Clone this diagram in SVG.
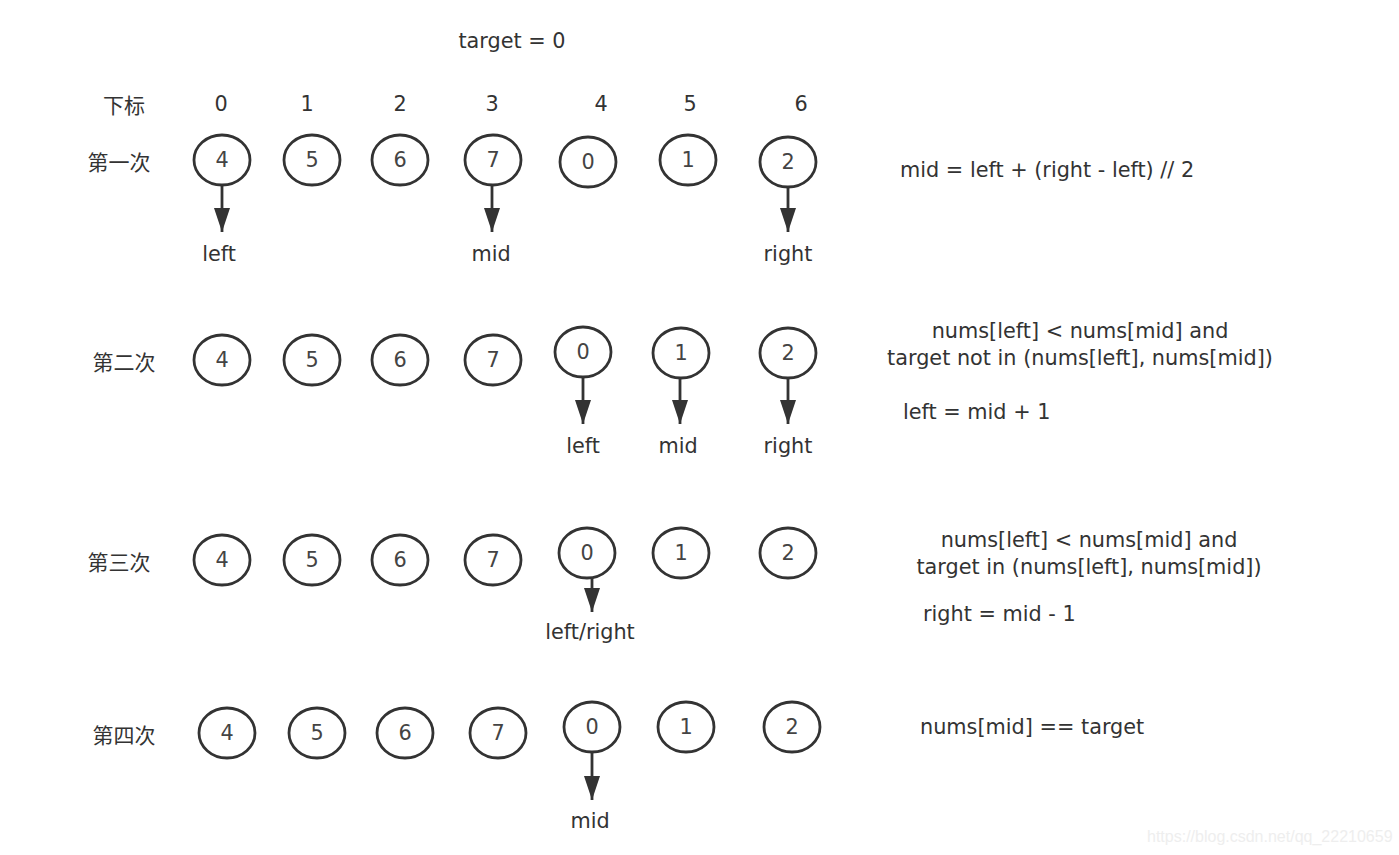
<svg xmlns="http://www.w3.org/2000/svg" width="1399" height="855" viewBox="0 0 1399 855">
<defs>
<marker id="ah" markerWidth="24" markerHeight="16" refX="24" refY="8" orient="auto" markerUnits="userSpaceOnUse" viewBox="0 0 24 16">
<path d="M0,0 L24,8 L0,16 Z" fill="#333"/>
</marker>
<style>
text{font-family:"DejaVu Sans","Noto Sans CJK SC",sans-serif;font-size:20.8px;fill:#333;}
.c{text-anchor:middle;dominant-baseline:central;}
.cjk{font-family:"Noto Sans CJK SC",sans-serif;font-size:21px;}
.n ellipse{fill:#fff;stroke:#333;stroke-width:2.8;}
.n text{text-anchor:middle;dominant-baseline:central;fill:#444;}
.cn{stroke:#333;stroke-width:2.8;fill:none;}
.wm{font-family:"Liberation Sans",sans-serif;font-size:16px;fill:#eee;}
</style>
</defs>
<rect width="1399" height="855" fill="#fff"/>
<text class="c" x="512" y="41">target = 0</text>
<text class="c cjk" x="124" y="104">下标</text>
<text class="c" x="221" y="104">0</text>
<text class="c" x="307" y="104">1</text>
<text class="c" x="400" y="104">2</text>
<text class="c" x="492" y="104">3</text>
<text class="c" x="601" y="104">4</text>
<text class="c" x="690" y="104">5</text>
<text class="c" x="801" y="104">6</text>
<text class="c cjk" x="119" y="161">第一次</text>
<text class="c cjk" x="124" y="361">第二次</text>
<text class="c cjk" x="119" y="561">第三次</text>
<text class="c cjk" x="124" y="734">第四次</text>
<g id="r1">
<g id="r1n0" class="n"><ellipse cx="222" cy="160" rx="28" ry="25"/><text x="222" y="160">4</text></g>
<g id="r1n1" class="n"><ellipse cx="312" cy="160" rx="28" ry="25"/><text x="312" y="160">5</text></g>
<g id="r1n2" class="n"><ellipse cx="400" cy="160" rx="28" ry="25"/><text x="400" y="160">6</text></g>
<g id="r1n3" class="n"><ellipse cx="493" cy="160" rx="28" ry="25"/><text x="493" y="160">7</text></g>
<g id="r1n4" class="n"><ellipse cx="588" cy="162" rx="28" ry="25"/><text x="588" y="162">0</text></g>
<g id="r1n5" class="n"><ellipse cx="688" cy="160" rx="28" ry="25"/><text x="688" y="160">1</text></g>
<g id="r1n6" class="n"><ellipse cx="788" cy="162" rx="28" ry="25"/><text x="788" y="162">2</text></g>
</g>
<g id="r2">
<g id="r2n0" class="n"><ellipse cx="222" cy="360" rx="28" ry="25"/><text x="222" y="360">4</text></g>
<g id="r2n1" class="n"><ellipse cx="312" cy="360" rx="28" ry="25"/><text x="312" y="360">5</text></g>
<g id="r2n2" class="n"><ellipse cx="400" cy="360" rx="28" ry="25"/><text x="400" y="360">6</text></g>
<g id="r2n3" class="n"><ellipse cx="493" cy="360" rx="28" ry="25"/><text x="493" y="360">7</text></g>
<g id="r2n4" class="n"><ellipse cx="583" cy="352" rx="28" ry="25"/><text x="583" y="352">0</text></g>
<g id="r2n5" class="n"><ellipse cx="681" cy="353" rx="28" ry="25"/><text x="681" y="353">1</text></g>
<g id="r2n6" class="n"><ellipse cx="788" cy="353" rx="28" ry="25"/><text x="788" y="353">2</text></g>
</g>
<g id="r3">
<g id="r3n0" class="n"><ellipse cx="222" cy="560" rx="28" ry="25"/><text x="222" y="560">4</text></g>
<g id="r3n1" class="n"><ellipse cx="312" cy="560" rx="28" ry="25"/><text x="312" y="560">5</text></g>
<g id="r3n2" class="n"><ellipse cx="400" cy="560" rx="28" ry="25"/><text x="400" y="560">6</text></g>
<g id="r3n3" class="n"><ellipse cx="493" cy="560" rx="28" ry="25"/><text x="493" y="560">7</text></g>
<g id="r3n4" class="n"><ellipse cx="587" cy="553" rx="28" ry="25"/><text x="587" y="553">0</text></g>
<g id="r3n5" class="n"><ellipse cx="681" cy="553" rx="28" ry="25"/><text x="681" y="553">1</text></g>
<g id="r3n6" class="n"><ellipse cx="788" cy="553" rx="28" ry="25"/><text x="788" y="553">2</text></g>
</g>
<g id="r4">
<g id="r4n0" class="n"><ellipse cx="227" cy="733" rx="28" ry="25"/><text x="227" y="733">4</text></g>
<g id="r4n1" class="n"><ellipse cx="317" cy="733" rx="28" ry="25"/><text x="317" y="733">5</text></g>
<g id="r4n2" class="n"><ellipse cx="405" cy="733" rx="28" ry="25"/><text x="405" y="733">6</text></g>
<g id="r4n3" class="n"><ellipse cx="498" cy="733" rx="28" ry="25"/><text x="498" y="733">7</text></g>
<g id="r4n4" class="n"><ellipse cx="592" cy="727" rx="28" ry="25"/><text x="592" y="727">0</text></g>
<g id="r4n5" class="n"><ellipse cx="686" cy="727" rx="28" ry="25"/><text x="686" y="727">1</text></g>
<g id="r4n6" class="n"><ellipse cx="792" cy="727" rx="28" ry="25"/><text x="792" y="727">2</text></g>
</g>
<g id="connectors">
<line class="cn" x1="222" y1="185" x2="222" y2="232" marker-end="url(#ah)"/>
<line class="cn" x1="492" y1="185" x2="492" y2="232" marker-end="url(#ah)"/>
<line class="cn" x1="788" y1="187" x2="788" y2="232" marker-end="url(#ah)"/>
<line class="cn" x1="583" y1="377" x2="583" y2="424" marker-end="url(#ah)"/>
<line class="cn" x1="680" y1="378" x2="680" y2="424" marker-end="url(#ah)"/>
<line class="cn" x1="788" y1="378" x2="788" y2="424" marker-end="url(#ah)"/>
<line class="cn" x1="592" y1="578" x2="592" y2="612" marker-end="url(#ah)"/>
<line class="cn" x1="592" y1="752" x2="592" y2="800" marker-end="url(#ah)"/>
</g>
<text class="c" x="219" y="254">left</text>
<text class="c" x="491" y="254">mid</text>
<text class="c" x="788" y="254">right</text>
<text class="c" x="583" y="446">left</text>
<text class="c" x="678" y="446">mid</text>
<text class="c" x="788" y="446">right</text>
<text class="c" x="590" y="632">left/right</text>
<text class="c" x="590" y="821">mid</text>
<text x="900" y="177">mid = left + (right - left) // 2</text>
<text class="c" x="1080" y="331">nums[left] &lt; nums[mid] and</text>
<text class="c" x="1080" y="358">target not in (nums[left], nums[mid])</text>
<text x="903" y="419">left = mid + 1</text>
<text class="c" x="1089" y="540">nums[left] &lt; nums[mid] and</text>
<text class="c" x="1089" y="567">target in (nums[left], nums[mid])</text>
<text x="923" y="621">right = mid - 1</text>
<text x="920" y="734">nums[mid] == target</text>
<text class="wm" x="1147" y="842">https://blog.csdn.net/qq_22210659</text>
</svg>
